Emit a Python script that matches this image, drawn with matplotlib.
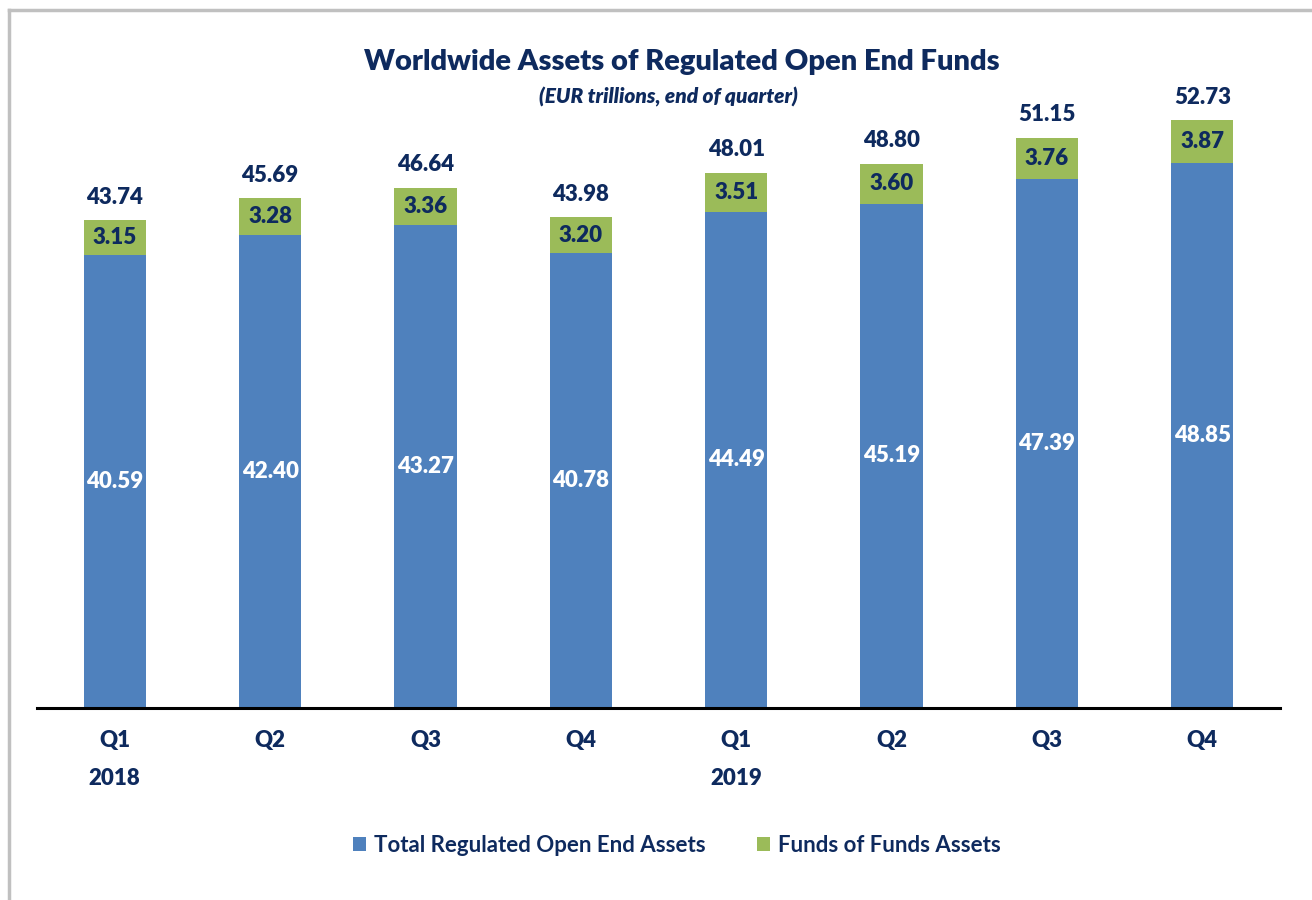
import matplotlib
matplotlib.use("Agg")
import matplotlib.pyplot as plt
from matplotlib.lines import Line2D

quarters = ["Q1", "Q2", "Q3", "Q4", "Q1", "Q2", "Q3", "Q4"]
years = ["2018", "", "", "", "2019", "", "", ""]
total_regulated = [40.59, 42.40, 43.27, 40.78, 44.49, 45.19, 47.39, 48.85]
funds_of_funds = [3.15, 3.28, 3.36, 3.20, 3.51, 3.60, 3.76, 3.87]
totals = [43.74, 45.69, 46.64, 43.98, 48.01, 48.80, 51.15, 52.73]

BLUE = "#4F81BD"
GREEN = "#9BBB59"
NAVY = "#0E2A5E"
FONT = ["Lato", "DejaVu Sans"]
W = "heavy"

plt.rcParams["font.family"] = FONT

fig = plt.figure(figsize=(13.12, 9), dpi=100)
ax = fig.add_axes([37 / 1312, (900 - 707.5) / 900, (1280 - 37) / 1312, 624 / 900])

x = list(range(len(quarters)))
b1 = ax.bar(x, total_regulated, width=0.4, color=BLUE, label="Total Regulated Open End Assets", zorder=2)
b2 = ax.bar(x, funds_of_funds, width=0.4, bottom=total_regulated, color=GREEN,
            label="Funds of Funds Assets", zorder=2)

ax.bar_label(b1, labels=[f"{v:.2f}" for v in total_regulated], label_type="center",
             color="white", fontsize=16, fontweight=W)
ax.bar_label(b2, labels=[f"{v:.2f}" for v in funds_of_funds], label_type="center",
             color=NAVY, fontsize=16, fontweight=W)
ax.bar_label(b2, labels=[f"{v:.2f}" for v in totals], label_type="edge", padding=9,
             color=NAVY, fontsize=16, fontweight=W)

ax.set_xlim(-0.5, len(quarters) - 0.5)
ax.set_ylim(0, 56)
for s in ["top", "right", "left"]:
    ax.spines[s].set_visible(False)
ax.spines["bottom"].set_linewidth(2.2)
ax.spines["bottom"].set_color("black")
ax.set_yticks([])
ax.set_xticks(x)
ax.set_xticklabels(quarters, fontsize=16, fontweight=W, color=NAVY)
ax.tick_params(axis="x", length=0, pad=16)
for xi, yr in zip(x, years):
    if yr:
        ax.annotate(yr, xy=(xi, 0), xycoords=("data", "axes fraction"),
                    xytext=(0, -71), textcoords="offset pixels",
                    ha="center", va="center", fontsize=16, fontweight=W, color=NAVY)

fig.text(682 / 1312, 1 - 62 / 900, "Worldwide Assets of Regulated Open End Funds",
         ha="center", va="center", fontsize=21, fontweight=W, color=NAVY)
fig.text(668 / 1312, 1 - 97 / 900, "(EUR trillions, end of quarter)",
         ha="center", va="center", fontsize=15, fontweight=W, fontstyle="italic", color=NAVY)

leg = fig.legend(handles=[b1, b2], loc="center", bbox_to_anchor=(677 / 1312, 1 - 845 / 900),
                 ncol=2, frameon=False, fontsize=16, handlelength=0.6, handleheight=0.6,
                 handletextpad=0.35, columnspacing=2.3, borderpad=0)
for t in leg.get_texts():
    t.set_color(NAVY)
    t.set_fontweight("bold")

# outer frame (top and left visible)
fig.add_artist(Line2D([9 / 1312, 1.0], [1 - 10 / 900, 1 - 10 / 900], color="#C0C0C0",
                      linewidth=2.5, transform=fig.transFigure))
fig.add_artist(Line2D([9 / 1312, 9 / 1312], [1 - 10 / 900, 0], color="#C0C0C0",
                      linewidth=2.5, transform=fig.transFigure))

fig.savefig("out.png", dpi=100)
